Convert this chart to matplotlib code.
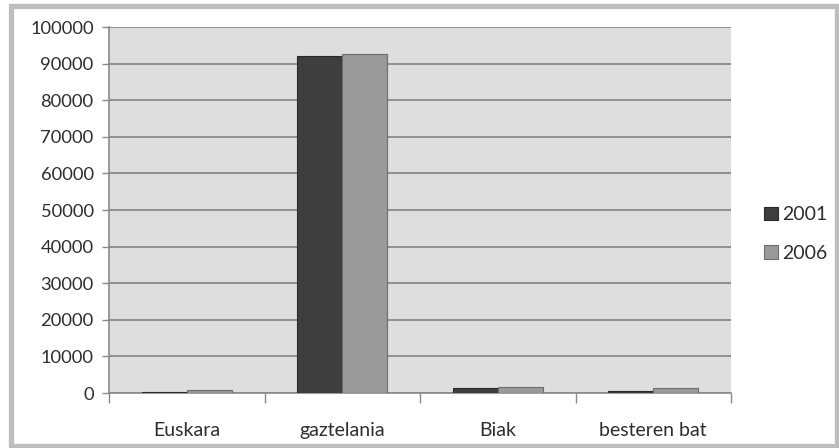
import matplotlib
matplotlib.use("Agg")
import matplotlib.pyplot as plt
from matplotlib.patches import Rectangle
import numpy as np

categories = ["Euskara", "gaztelania", "Biak", "besteren bat"]
series_names = ["2001", "2006"]
values_2001 = [400, 92100, 1300, 550]
values_2006 = [800, 92600, 1700, 1300]
yticks = list(range(0, 100001, 10000))

plt.rcParams["font.family"] = ["Lato", "DejaVu Sans"]

W, H = 839, 448
fig = plt.figure(figsize=(W / 100, H / 100), dpi=100)
fig.patch.set_facecolor("white")

# outer frame
fig.patches.append(Rectangle((10.5 / W, 1 - 445.5 / H), 826 / W, 439 / H,
                             transform=fig.transFigure, fill=False,
                             edgecolor="#bdbdbd", linewidth=3.8))

left, right, top, bottom = 109, 731, 27, 393
ax = fig.add_axes([left / W, 1 - bottom / H, (right - left) / W, (bottom - top) / H])
ax.set_facecolor("#dedede")

x = np.arange(len(categories))
bw = 0.29
ax.bar(x - bw / 2, values_2001, bw, color="#3e3e3e", edgecolor="#2a2a2a",
       linewidth=0.8, label=series_names[0], zorder=3)
ax.bar(x + bw / 2, values_2006, bw, color="#999999", edgecolor="#6e6e6e",
       linewidth=0.8, label=series_names[1], zorder=3)

ax.set_xlim(-0.5, len(categories) - 0.5)
ax.set_ylim(0, 100000)
ax.set_yticks(yticks)
ax.set_yticklabels([str(v) for v in yticks])
ax.yaxis.grid(True, color="#8a8a8a", linewidth=1.3, zorder=1)
ax.set_axisbelow(True)

ax.set_xticks(x)
ax.set_xticklabels(categories)
ax.set_xticks(np.arange(len(categories) + 1) - 0.5, minor=True)
ax.tick_params(axis="x", which="major", length=0, pad=21, labelsize=14,
               labelcolor="#2e2e2e")
ax.tick_params(axis="x", which="minor", length=7, width=1, color="#8a8a8a")
ax.tick_params(axis="y", length=5, width=1, color="#8a8a8a", pad=6,
               labelsize=13.2, labelcolor="#2e2e2e")

for s in ["top", "right"]:
    ax.spines[s].set_visible(False)
ax.spines["left"].set_color("#8a8a8a")
ax.spines["bottom"].set_color("#8a8a8a")
ax.spines["left"].set_linewidth(1.2)
ax.spines["bottom"].set_linewidth(1.2)

leg = fig.legend(loc="center left", bbox_to_anchor=(764 / W, 1 - 234 / H),
                 frameon=False, fontsize=14, handlelength=0.7, handleheight=0.7,
                 handletextpad=0.25, labelspacing=1.1, borderaxespad=0,
                 borderpad=0)
for t in leg.get_texts():
    t.set_color("#2e2e2e")

fig.savefig("out.png", dpi=100, facecolor="white")
